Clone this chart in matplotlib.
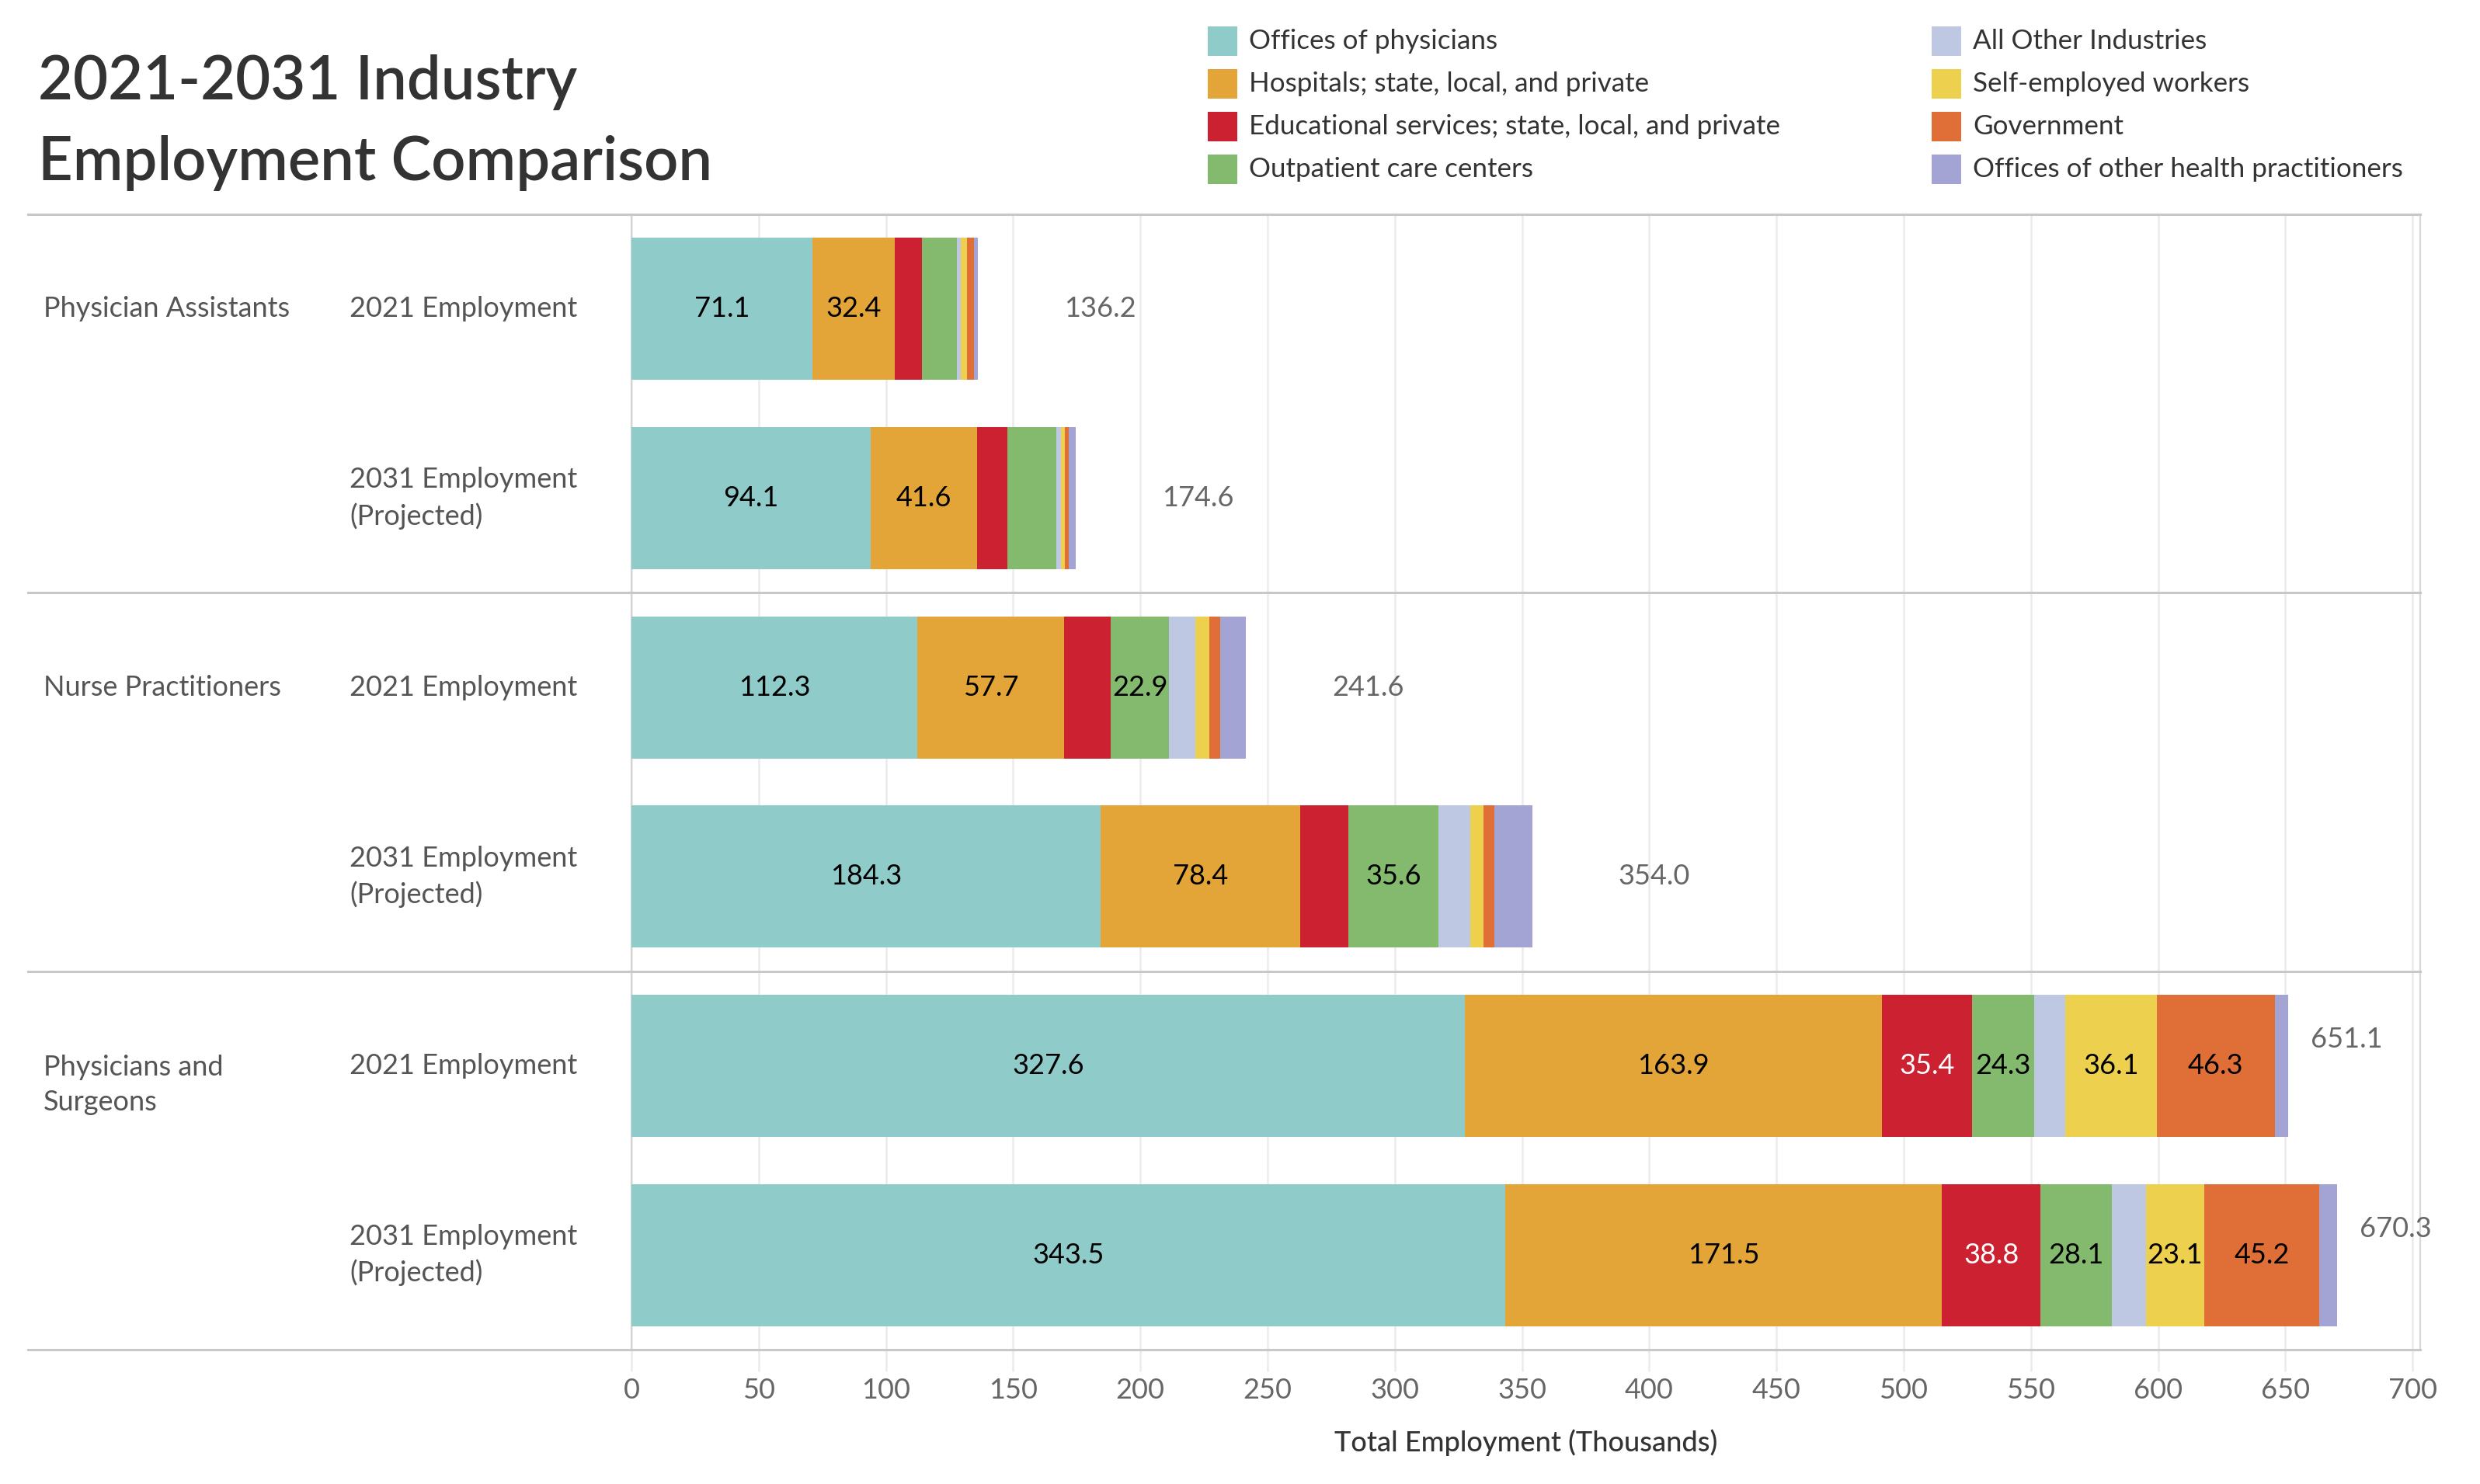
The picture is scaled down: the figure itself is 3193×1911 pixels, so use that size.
import numpy as np
import matplotlib
matplotlib.use("Agg")
import matplotlib.pyplot as plt
from matplotlib.patches import Rectangle
from matplotlib.lines import Line2D
from matplotlib import transforms

plt.rcParams["font.family"] = ["Lato", "DejaVu Sans"]

# --- data (thousands of jobs) ---
categories = ["Offices of physicians", "Hospitals; state, local, and private",
              "Educational services; state, local, and private", "Outpatient care centers",
              "All Other Industries", "Self-employed workers", "Government",
              "Offices of other health practitioners"]
colors = ["#8ECBC9", "#E3A538", "#CB2131", "#83BA6D",
          "#BEC8E2", "#EDD04E", "#E06F37", "#A4A4D4"]

occupations = ["Physician Assistants", "Nurse Practitioners", "Physicians and\nSurgeons"]
periods = ["2021 Employment", "2031 Employment\n(Projected)"]

# rows: PA 2021, PA 2031, NP 2021, NP 2031, PS 2021, PS 2031
offices_physicians = [71.1, 94.1, 112.3, 184.3, 327.6, 343.5]
hospitals = [32.4, 41.6, 57.7, 78.4, 163.9, 171.5]
educational = [10.8, 12.0, 18.4, 19.0, 35.4, 38.8]
outpatient = [13.5, 19.2, 22.9, 35.6, 24.3, 28.1]
all_other = [1.6, 1.8, 10.2, 12.5, 12.2, 13.2]
self_employed = [2.5, 1.6, 5.6, 5.1, 36.1, 23.1]
government = [2.6, 1.7, 4.2, 4.2, 46.3, 45.2]
other_health = [1.7, 2.6, 10.3, 14.9, 5.3, 6.9]
totals = [136.2, 174.6, 241.6, 354.0, 651.1, 670.3]

series = [offices_physicians, hospitals, educational, outpatient,
          all_other, self_employed, government, other_health]

W, H = 3193, 1911
fig = plt.figure(figsize=(W / 200, H / 200), dpi=200)
ax = fig.add_axes([813 / W, 1 - 1738 / H, (3116 - 813) / W, (1738 - 276) / H])

FS = 13
ypos = np.arange(len(totals))
left = np.zeros(len(totals))
for vals, col in zip(series, colors):
    vals = np.array(vals)
    ax.barh(ypos, vals, left=left, height=0.75, color=col, edgecolor="none", zorder=3)
    for y, v, l in zip(ypos, vals, left):
        if v >= 20:
            tc = "white" if col == "#CB2131" else "black"
            ax.text(l + v / 2, y, f"{v:.1f}", ha="center", va="center",
                    fontsize=FS, color=tc, zorder=4)
    left += vals

xmax = 703
for y, t in zip(ypos, totals):
    if t + 70 < xmax:
        ax.text(t + 48, y, f"{t:.1f}", ha="center", va="center", fontsize=FS, color="#666666")
    else:
        ax.text(t + 9, y - 0.14, f"{t:.1f}", ha="left", va="center", fontsize=FS, color="#666666")

ax.set_xlim(0, xmax)
ax.set_ylim(5.5, -0.5)
ax.set_xticks(np.arange(0, 701, 50))
ax.set_yticks([])
ax.grid(axis="x", color="#EBEBEB", lw=0.9, zorder=0)
ax.tick_params(axis="x", length=10, width=0.9, color="#EBEBEB", pad=3, labelsize=FS, labelcolor="#666666")
for s in ["top", "bottom"]:
    ax.spines[s].set_visible(False)
ax.spines["left"].set_color("#D4D4D4")
ax.spines["right"].set_color("#D8D8D8")
ax.spines["left"].set_linewidth(0.8)
ax.spines["right"].set_linewidth(0.8)
ax.set_xlabel("Total Employment (Thousands)", fontsize=FS, color="#333333", labelpad=12,
              fontweight="medium")

# section lines across the whole panel
tr = transforms.blended_transform_factory(fig.transFigure, ax.transData)
for yl in [-0.5, 1.5, 3.5, 5.5]:
    fig.add_artist(Line2D([36 / W, 3116 / W], [yl, yl], transform=tr,
                          color="#C8C8C8", lw=1.1, zorder=5))

# row headers
for i, occ in enumerate(occupations):
    yo = 0.1 if "\n" in occ else 0
    ax.text(56 / W, 2 * i + yo, occ, transform=tr, ha="left", va="center",
            fontsize=FS, color="#555555", linespacing=1.45)
    for j, per in enumerate(periods):
        ax.text(450 / W, 2 * i + j, per, transform=tr, ha="left", va="center",
                fontsize=FS, color="#555555", linespacing=1.45)

# title
fig.text(49 / W, 1 - 106 / H, "2021-2031 Industry", fontsize=28, fontweight="semibold",
         color="#333333", ha="left", va="center")
fig.text(49 / W, 1 - 210 / H, "Employment Comparison", fontsize=28, fontweight="semibold",
         color="#333333", ha="left", va="center")

# legend
for k, (cat, col) in enumerate(zip(categories, colors)):
    c, r = divmod(k, 4)
    sx = [1555, 2487][c]
    cy = [53, 108, 163, 218][r]
    fig.add_artist(Rectangle((sx / W, 1 - (cy + 19) / H), 38 / W, 38 / H,
                             transform=fig.transFigure, color=col, lw=0))
    fig.text((sx + 53) / W, 1 - cy / H, cat, fontsize=12.6, color="#333333",
             ha="left", va="center")

fig.savefig("out.png", dpi=200)
